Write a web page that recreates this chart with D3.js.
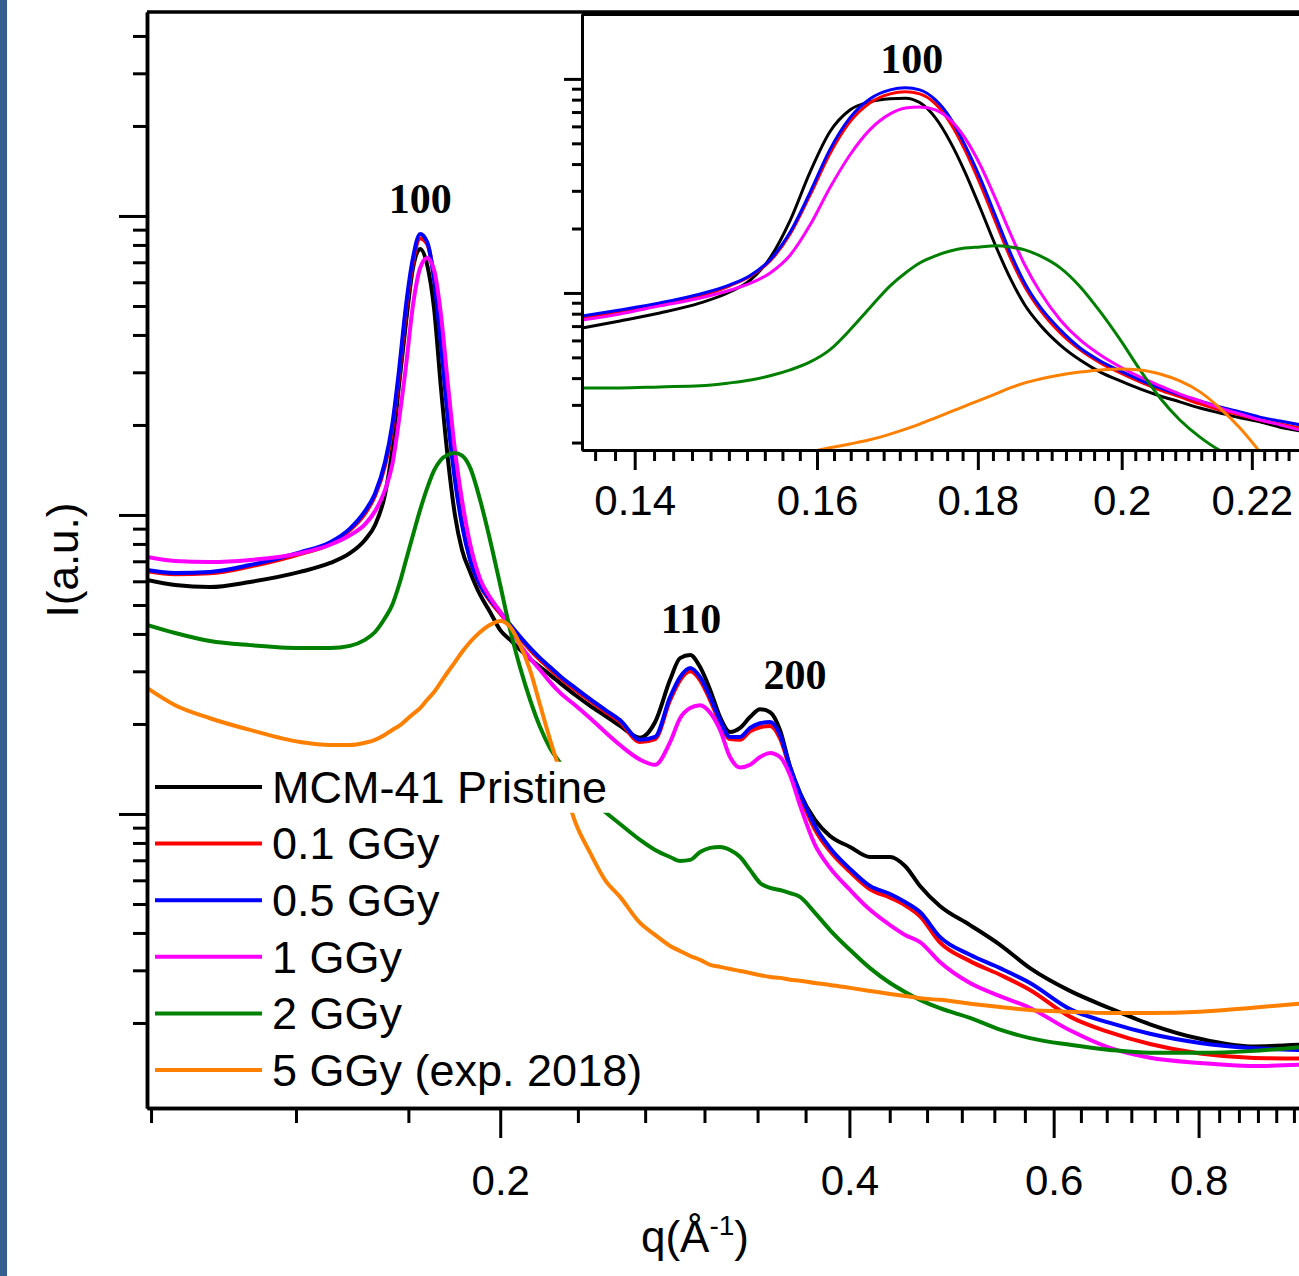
<!DOCTYPE html>
<html>
<head>
<meta charset="utf-8">
<script src="https://cdn.jsdelivr.net/npm/d3@7"></script>
<style>
  body { margin: 0; background: #fff; }
  svg { display: block; }
</style>
</head>
<body>
<svg id="chart" width="1299" height="1276"></svg>
<script>
// series names and colours (legend order)
var seriesNames = ["MCM-41 Pristine", "0.1 GGy", "0.5 GGy", "1 GGy", "2 GGy", "5 GGy (exp. 2018)"];
var seriesColors = ["#000000", "#ff0000", "#0000ff", "#ff00ff", "#008000", "#ff8000"];

// main panel: q (1/A) and I (a.u.)
var mainQ = [0.0992, 0.1049, 0.1124, 0.1217, 0.1344, 0.1427, 0.1484, 0.1529, 0.1560, 0.1591,
    0.1614, 0.1636, 0.1659, 0.1682, 0.1706, 0.1730, 0.1754, 0.1778, 0.1803, 0.1828,
    0.1854, 0.1884, 0.1922, 0.1960, 0.2000, 0.2040, 0.2081, 0.2122, 0.2165, 0.2208,
    0.2253, 0.2321, 0.2391, 0.2463, 0.2537, 0.2640, 0.2720, 0.2802, 0.2858, 0.2916,
    0.2974, 0.3034, 0.3094, 0.3156, 0.3220, 0.3284, 0.3350, 0.3417, 0.3485, 0.3555,
    0.3626, 0.3736, 0.3849, 0.4005, 0.4167, 0.4336, 0.4467, 0.4602, 0.4787, 0.5082,
    0.5394, 0.5725, 0.6197, 0.6709, 0.7264, 0.8022, 0.8860, 0.9784];

var mainPristine = [6.06, 5.83, 5.74, 5.97, 6.45, 6.91, 7.45, 8.25, 9.26, 11.7,
    16.5, 27.2, 44.2, 67.0, 77.5, 68.6, 48.9, 26.6, 15.3, 10.0,
    7.64, 6.45, 5.40, 4.74, 4.12, 3.82, 3.54, 3.30, 3.10, 2.92,
    2.74, 2.50, 2.30, 2.13, 1.97, 1.80, 2.03, 2.81, 3.32, 3.40,
    3.10, 2.60, 2.11, 1.88, 1.94, 2.11, 2.24, 2.19, 1.91, 1.44,
    1.175, 0.955, 0.844, 0.776, 0.718, 0.718, 0.670, 0.574, 0.492, 0.425,
    0.365, 0.305, 0.256, 0.224, 0.198, 0.177, 0.167, 0.169];

var main01 = [6.48, 6.33, 6.38, 6.72, 7.40, 8.00, 8.90, 10.1, 11.6, 14.6,
    19.3, 29.3, 48.5, 70.0, 84.0, 80.5, 62.0, 38.5, 21.5, 13.5,
    9.4, 7.1, 5.8, 5.15, 4.68, 4.24, 3.86, 3.54, 3.27, 3.05,
    2.85, 2.60, 2.39, 2.20, 2.03, 1.74, 1.78, 2.40, 2.80, 3.00,
    2.80, 2.40, 2.02, 1.78, 1.77, 1.89, 1.95, 1.97, 1.79, 1.42,
    1.15, 0.885, 0.750, 0.640, 0.560, 0.525, 0.495, 0.455, 0.372, 0.322,
    0.290, 0.258, 0.210, 0.186, 0.170, 0.158, 0.153, 0.152];

var main05 = [6.55, 6.40, 6.45, 6.80, 7.50, 8.10, 9.00, 10.3, 11.8, 15.0,
    20.0, 30.5, 50.4, 72.4, 87.1, 81.8, 61.1, 37.0, 20.8, 13.1,
    9.26, 7.07, 5.83, 5.20, 4.74, 4.29, 3.91, 3.59, 3.32, 3.10,
    2.89, 2.64, 2.42, 2.23, 2.06, 1.77, 1.81, 2.46, 2.87, 3.08,
    2.87, 2.46, 2.06, 1.81, 1.81, 1.94, 2.01, 2.03, 1.84, 1.44,
    1.175, 0.912, 0.770, 0.655, 0.574, 0.540, 0.508, 0.470, 0.388, 0.338,
    0.305, 0.272, 0.2225, 0.200, 0.184, 0.1715, 0.165, 0.1625];

var main1 = [7.24, 7.02, 6.96, 7.07, 7.45, 7.95, 8.55, 9.30, 10.3, 12.1,
    14.7, 20.8, 31.7, 50.4, 67.0, 72.4, 65.9, 46.7, 27.2, 16.5,
    11.2, 8.0, 6.1, 5.3, 4.74, 4.19, 3.67, 3.32, 3.03, 2.76,
    2.54, 2.31, 2.09, 1.88, 1.70, 1.52, 1.46, 1.74, 2.09, 2.26,
    2.31, 2.18, 1.91, 1.55, 1.43, 1.46, 1.55, 1.60, 1.55, 1.35,
    1.07, 0.788, 0.660, 0.557, 0.478, 0.425, 0.394, 0.373, 0.320, 0.272,
    0.246, 0.2245, 0.189, 0.165, 0.153, 0.147, 0.1436, 0.145];

var main2 = [4.29, 4.03, 3.79, 3.67, 3.59, 3.59, 3.65, 3.82, 4.06, 4.52,
    5.0, 5.83, 7.07, 8.57, 10.4, 12.3, 14.1, 15.3, 15.9, 16.1,
    15.8, 14.4, 11.2, 8.25, 5.83, 4.12, 3.08, 2.41, 1.95, 1.66,
    1.48, 1.25, 1.11, 1.015, 0.926, 0.819, 0.758, 0.718, 0.696, 0.702,
    0.746, 0.770, 0.776, 0.758, 0.718, 0.650, 0.588, 0.566, 0.557, 0.544,
    0.528, 0.467, 0.409, 0.351, 0.305, 0.272, 0.254, 0.239, 0.224, 0.208,
    0.190, 0.178, 0.169, 0.1625, 0.159, 0.159, 0.161, 0.166];

var main5 = [2.64, 2.31, 2.09, 1.91, 1.74, 1.70, 1.70, 1.73, 1.77, 1.84,
    1.91, 1.97, 2.06, 2.16, 2.26, 2.41, 2.56, 2.76, 2.99, 3.22,
    3.48, 3.76, 4.06, 4.29, 4.42, 4.22, 3.67, 3.03, 2.31, 1.77,
    1.38, 0.94, 0.741, 0.601, 0.528, 0.432, 0.394, 0.362, 0.348, 0.335,
    0.325, 0.313, 0.308, 0.303, 0.2985, 0.294, 0.289, 0.285, 0.283, 0.279,
    0.277, 0.272, 0.268, 0.262, 0.256, 0.250, 0.246, 0.242, 0.239, 0.232,
    0.226, 0.221, 0.218, 0.216, 0.216, 0.218, 0.2245, 0.232];

// inset: zoom on the 100 reflection
var insetQ = [0.1347, 0.1385, 0.1426, 0.1469, 0.1501, 0.1524, 0.1546, 0.1569, 0.1592, 0.1615,
    0.1639, 0.1663, 0.1688, 0.1707, 0.1725, 0.1745, 0.1764, 0.1783, 0.1803, 0.1823,
    0.1843, 0.1863, 0.1884, 0.1912, 0.1940, 0.1969, 0.1998, 0.2027, 0.2057, 0.2087,
    0.2118, 0.2149, 0.2181, 0.2213, 0.2246, 0.2279];

var insetPristine = [6.86, 7.40, 8.06, 8.98, 10.1, 11.5, 14.6, 21.9, 36.8, 56.5,
    71.6, 78.1, 80.8, 81.3, 77.5, 65.7, 50.8, 36.8, 25.0, 16.8,
    11.75, 8.79, 7.09, 5.71, 4.86, 4.27, 3.88, 3.56, 3.30, 3.10,
    2.90, 2.75, 2.61, 2.50, 2.36, 2.27];

var inset01 = [7.64, 8.15, 8.79, 9.68, 10.8, 12.0, 14.1, 18.9, 28.7, 44.6,
    63.0, 77.2, 85.1, 87.0, 85.1, 76.4, 62.3, 46.6, 32.3, 21.7,
    14.7, 10.7, 8.33, 6.50, 5.42, 4.71, 4.23, 3.84, 3.52, 3.27,
    3.03, 2.84, 2.69, 2.55, 2.44, 2.34];

var inset05 = [7.81, 8.33, 8.98, 9.89, 10.9, 12.1, 14.3, 19.3, 29.6, 46.6,
    65.7, 80.6, 88.9, 90.8, 88.9, 79.8, 65.7, 49.2, 34.5, 23.1,
    15.5, 11.1, 8.60, 6.72, 5.53, 4.81, 4.32, 3.92, 3.60, 3.34,
    3.13, 2.93, 2.78, 2.63, 2.52, 2.42];

var inset1 = [7.48, 7.98, 8.70, 9.47, 10.3, 11.1, 12.4, 15.05, 20.8, 30.9,
    44.1, 57.8, 68.6, 73.2, 74.0, 71.6, 64.3, 53.0, 39.7, 27.8,
    19.1, 13.5, 10.1, 7.48, 6.03, 5.13, 4.51, 4.05, 3.68, 3.37,
    3.13, 2.90, 2.72, 2.55, 2.42, 2.29];

var inset2 = [3.60, 3.60, 3.64, 3.68, 3.80, 3.92, 4.10, 4.37, 4.76, 5.42,
    6.71, 8.51, 10.8, 12.4, 13.8, 14.9, 15.7, 16.2, 16.4, 16.6,
    16.4, 15.9, 14.9, 13.1, 10.7, 8.15, 6.03, 4.37, 3.23, 2.55,
    2.12, 1.84, 1.69, null, null, null];

var inset5 = [null, null, null, null, null, null, null, null, 1.81, 1.89,
    1.97, 2.06, 2.19, 2.31, 2.44, 2.61, 2.78, 2.96, 3.16, 3.37,
    3.60, 3.80, 3.96, 4.14, 4.27, 4.37, 4.41, 4.37, 4.18, 3.88,
    3.45, 2.90, 2.34, 1.81, null, null];

// tick labels
var mainXTicks = [0.2, 0.4, 0.6, 0.8];
var insetXTicks = [0.14, 0.16, 0.18, 0.2, 0.22];

// reflection labels (placed in data coordinates)
var peakNames = ["100", "110", "200"];
var peakQ = [0.1706, 0.2921, 0.3591];
var peakI = [102, 4.03, 2.62];

var FONT = "'Liberation Sans', Arial, sans-serif";
var SERIF = "'Liberation Serif', 'Times New Roman', serif";

var svg = d3.select("#chart");

// dark strip on the left edge
svg.append("rect")
    .attr("x", 0).attr("y", 0)
    .attr("width", 7).attr("height", 1276)
    .attr("fill", "#365e8e");

// ---------- main panel ----------
var x = d3.scaleLog().domain([0.0992, 1.0]).range([147, 1311]);
var y = d3.scaleLog().domain([0.1039, 481]).range([1108, 12]);

var defs = svg.append("defs");
defs.append("clipPath").attr("id", "mainClip").append("rect")
    .attr("x", 147).attr("y", 12).attr("width", 1164).attr("height", 1096);

var mainSeries = [mainPristine, main01, main05, main1, main2, main5];

var mainLine = d3.line()
    .defined(function(d) { return d[1] != null; })
    .x(function(d) { return x(d[0]); })
    .y(function(d) { return y(d[1]); })
    .curve(d3.curveMonotoneX);

svg.append("g")
    .attr("clip-path", "url(#mainClip)")
    .selectAll("path")
    .data(mainSeries).enter()
    .append("path")
    .attr("d", function(s) {
        return mainLine(mainQ.map(function(q, i) { return [q, s[i]]; }));
    })
    .attr("fill", "none")
    .attr("stroke", function(d, i) { return seriesColors[i]; })
    .attr("stroke-width", 4)
    .attr("stroke-linejoin", "round");

// minor ticks
var mainXMinor = d3.range(3, 30).map(function(k) { return k / 30; })
    .filter(function(v) { return mainXTicks.every(function(t) { return Math.abs(t - v) > 1e-6; }); });
var mainYMajor = [1, 10, 100];
var mainYMinor = [];
[0.1, 1, 10, 100].forEach(function(dec) {
    d3.range(2, 10).forEach(function(m) {
        var v = m * dec;
        if (v > 0.1039 && v < 481) mainYMinor.push(v);
    });
});

function styleAxis(g, w) {
    g.select(".domain").attr("stroke", "#000").attr("stroke-width", w);
    g.selectAll(".tick line").attr("stroke", "#000").attr("stroke-width", 3);
    g.selectAll(".tick text")
        .attr("fill", "#000")
        .style("font-family", FONT)
        .style("font-size", "42px");
}

svg.append("g")
    .attr("transform", "translate(0,1108)")
    .call(d3.axisBottom(x).tickValues(mainXMinor).tickSize(15).tickSizeOuter(0).tickFormat(""))
    .call(styleAxis, 3.5);
svg.append("g")
    .attr("transform", "translate(0,1108)")
    .call(d3.axisBottom(x).tickValues(mainXTicks).tickSize(30).tickPadding(27).tickSizeOuter(0)
        .tickFormat(d3.format("")))
    .call(styleAxis, 3.5);

svg.append("g")
    .attr("transform", "translate(147,0)")
    .call(d3.axisLeft(y).tickValues(mainYMinor).tickSize(14).tickSizeOuter(0).tickFormat(""))
    .call(styleAxis, 3.5);
svg.append("g")
    .attr("transform", "translate(147,0)")
    .call(d3.axisLeft(y).tickValues(mainYMajor).tickSize(28).tickSizeOuter(0).tickFormat(""))
    .call(styleAxis, 3.5);

// top frame line
svg.append("line")
    .attr("x1", 147).attr("x2", 1311)
    .attr("y1", 12).attr("y2", 12)
    .attr("stroke", "#000").attr("stroke-width", 3.5);

// reflection labels
svg.append("g").selectAll("text")
    .data(peakNames).enter()
    .append("text")
    .attr("x", function(d, i) { return x(peakQ[i]); })
    .attr("y", function(d, i) { return y(peakI[i]); })
    .attr("text-anchor", "middle")
    .style("font-family", SERIF)
    .style("font-weight", "bold")
    .style("font-size", "42px")
    .text(function(d) { return d; });

// axis titles
var xTitle = svg.append("text")
    .attr("x", 695).attr("y", 1252)
    .attr("text-anchor", "middle")
    .style("font-family", FONT)
    .style("font-size", "44px");
xTitle.append("tspan").text("q(\u00c5");
xTitle.append("tspan").attr("dy", -17).style("font-size", "28px").text("-1");
xTitle.append("tspan").attr("dy", 17).text(")");

svg.append("text")
    .attr("transform", "translate(62,560) rotate(-90)")
    .attr("text-anchor", "middle")
    .attr("dominant-baseline", "central")
    .style("font-family", FONT)
    .style("font-size", "44px")
    .text("I(a.u.)");

// legend
var legend = svg.append("g");
seriesNames.forEach(function(name, i) {
    var ly = 787 + i * 56.6;
    var row = legend.append("g");
    var txt = row.append("text")
        .attr("x", 272).attr("y", ly)
        .attr("dy", "0.35em")
        .style("font-family", FONT)
        .style("font-size", "45px")
        .attr("fill", "#000")
        .text(name);
    var bb = txt.node().getBBox();
    row.insert("rect", "text")
        .attr("x", bb.x - 2).attr("y", bb.y)
        .attr("width", bb.width + 4).attr("height", bb.height)
        .attr("fill", "#fff");
    row.append("line")
        .attr("x1", 155).attr("x2", 262)
        .attr("y1", ly).attr("y2", ly)
        .attr("stroke", seriesColors[i])
        .attr("stroke-width", 4);
});

// ---------- inset ----------
var ix = d3.scaleLog().domain([0.1347, 0.2279]).range([582, 1300]);
var iy = d3.scaleLog().domain([1.846, 201]).range([450, 14]);

svg.append("rect")
    .attr("x", 582).attr("y", 14)
    .attr("width", 730).attr("height", 436)
    .attr("fill", "#fff");

defs.append("clipPath").attr("id", "insetClip").append("rect")
    .attr("x", 582).attr("y", 14).attr("width", 730).attr("height", 436);

var insetSeries = [insetPristine, inset01, inset05, inset1, inset2, inset5];

var insetLine = d3.line()
    .defined(function(d) { return d[1] != null; })
    .x(function(d) { return ix(d[0]); })
    .y(function(d) { return iy(d[1]); })
    .curve(d3.curveMonotoneX);

svg.append("g")
    .attr("clip-path", "url(#insetClip)")
    .selectAll("path")
    .data(insetSeries).enter()
    .append("path")
    .attr("d", function(s) {
        return insetLine(insetQ.map(function(q, i) { return [q, s[i]]; }));
    })
    .attr("fill", "none")
    .attr("stroke", function(d, i) { return seriesColors[i]; })
    .attr("stroke-width", 3)
    .attr("stroke-linejoin", "round");

var insetXMinor = d3.range(68, 115).map(function(k) { return k * 0.002; })
    .filter(function(v) {
        return v > 0.1347 && v < 0.2279 &&
            insetXTicks.every(function(t) { return Math.abs(t - v) > 1e-6; });
    });
var insetYMajor = [10, 100];
var insetYMinor = [];
[1, 10].forEach(function(dec) {
    d3.range(2, 10).forEach(function(m) { insetYMinor.push(m * dec); });
});

svg.append("g")
    .attr("transform", "translate(0,450)")
    .call(d3.axisBottom(ix).tickValues(insetXMinor).tickSize(11).tickSizeOuter(0).tickFormat(""))
    .call(styleAxis, 3);
svg.append("g")
    .attr("transform", "translate(0,450)")
    .call(d3.axisBottom(ix).tickValues(insetXTicks).tickSize(20).tickPadding(15).tickSizeOuter(0)
        .tickFormat(d3.format("")))
    .call(styleAxis, 3);

svg.append("g")
    .attr("transform", "translate(582,0)")
    .call(d3.axisLeft(iy).tickValues(insetYMinor).tickSize(10).tickSizeOuter(0).tickFormat(""))
    .call(styleAxis, 3);
svg.append("g")
    .attr("transform", "translate(582,0)")
    .call(d3.axisLeft(iy).tickValues(insetYMajor).tickSize(18).tickSizeOuter(0).tickFormat(""))
    .call(styleAxis, 3);

svg.append("line")
    .attr("x1", 582).attr("x2", 1311)
    .attr("y1", 14.5).attr("y2", 14.5)
    .attr("stroke", "#000").attr("stroke-width", 3);

svg.append("text")
    .attr("x", ix(0.1715)).attr("y", iy(106.7))
    .attr("text-anchor", "middle")
    .style("font-family", SERIF)
    .style("font-weight", "bold")
    .style("font-size", "42px")
    .text("100");
</script>
</body>
</html>
